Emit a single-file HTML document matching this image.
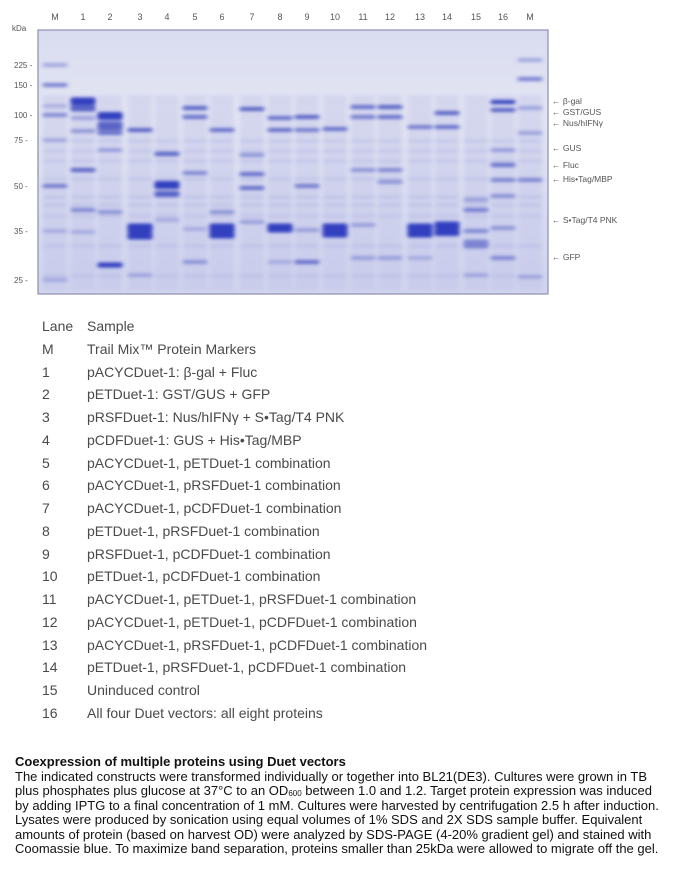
<!DOCTYPE html>
<html><head><meta charset="utf-8">
<style>
body{margin:0;width:696px;height:879px;background:#fff;position:relative;overflow:hidden;font-family:"Liberation Sans",sans-serif}
.row{position:absolute;font-size:14px;color:#4a4a4a;white-space:nowrap;line-height:16px}
.cap{position:absolute;left:15px;top:755px;font-size:13px;line-height:14.5px;color:#111;white-space:nowrap;font-family:"Liberation Sans",sans-serif}
.cap div{height:14.5px;line-height:14.5px}
</style></head><body>
<svg id="g" width="696" height="310" style="position:absolute;left:0;top:0">
<defs>
<filter id="b" x="-20%" y="-200%" width="140%" height="500%"><feGaussianBlur stdDeviation="2 1.6"/></filter>
<linearGradient id="bg" x1="0" y1="0" x2="0" y2="1"><stop offset="0" stop-color="#d9dcf0"/><stop offset="0.3" stop-color="#e3e5f3"/><stop offset="1" stop-color="#d0d4ee"/></linearGradient>
</defs>
<rect x="38" y="30" width="510" height="264" fill="url(#bg)" stroke="#8a8fb0" stroke-width="1.2"/>
<g id="lanes" filter="url(#b)"></g>
<g id="bands" filter="url(#b)"></g>
<g font-family="Liberation Sans Narrow, Liberation Sans, sans-serif" font-size="9" fill="#555" id="txt"></g>
</svg>
<div class="row" style="left:42px;top:318px">Lane</div><div class="row" style="left:87px;top:318px">Sample</div>
<div id="rows"></div>
<div class="cap"><div><b>Coexpression of multiple proteins using Duet vectors</b></div><div>The indicated constructs were transformed individually or together into BL21(DE3). Cultures were grown in TB</div><div>plus phosphates plus glucose at 37°C to an OD<sub style="font-size:8px;vertical-align:-1px;line-height:0">600</sub> between 1.0 and 1.2. Target protein expression was induced</div><div>by adding IPTG to a final concentration of 1 mM. Cultures were harvested by centrifugation 2.5 h after induction.</div><div>Lysates were produced by sonication using equal volumes of 1% SDS and 2X SDS sample buffer. Equivalent</div><div>amounts of protein (based on harvest OD) were analyzed by SDS-PAGE (4-20% gradient gel) and stained with</div><div>Coomassie blue. To maximize band separation, proteins smaller than 25kDa were allowed to migrate off the gel.</div></div>
<script>
var ns="http://www.w3.org/2000/svg";
function el(p,t,a,tx){var e=document.createElementNS(ns,t);for(var k in a)e.setAttribute(k,a[k]);if(tx)e.textContent=tx;document.getElementById(p).appendChild(e);return e;}
var xs=[55,83,110,140,167,195,222,252,280,307,335,363,390,420,447,476,503,530];
var names=["M","1","2","3","4","5","6","7","8","9","10","11","12","13","14","15","16","M"];
xs.forEach(function(x,i){el("txt","text",{x:x,y:20,"text-anchor":"middle","font-size":"9"},names[i]);
el("lanes","rect",{x:x-12,y:95,width:24,height:195,fill:"#b9bee6",opacity:0.35});});
var faint=[140,150,160,178,196,204,215,245,275];
var L={0:[[65,.4],[85,.7],[106,.3],[115,.6],[140,.3],[186,.7],[231,.3],[280,.3]],
1:[[101,1,6],[108,.9,6],[118,.4],[131,.5],[170,.9,3],[210,.6],[232,.3]],
2:[[116,1,7],[126,.9,8],[133,.8],[150,.4],[212,.5],[265,1,4]],
3:[[130,.9],[228,1,8],[236,1,6],[275,.3]],
4:[[154,.9,3],[185,1,7],[194,.9,5],[220,.3]],
5:[[108,.9],[117,.8],[173,.6],[229,.3],[262,.5]],
6:[[130,.8],[212,.5],[228,1,8],[235,1,6]],
7:[[109,.9,3],[155,.5],[174,.8],[188,.8],[222,.4]],
8:[[118,.8],[130,.8],[228,1,8],[262,.3]],
9:[[117,.9,3],[130,.7],[186,.7],[230,.4],[262,.8]],
10:[[129,.8],[228,1,8],[234,1,6]],
11:[[107,.8],[117,.7],[170,.5],[225,.4],[258,.4]],
12:[[107,.9],[117,.8],[170,.6],[182,.5],[258,.4]],
13:[[127,.7],[228,1,8],[234,1,6],[258,.3]],
14:[[113,.9],[127,.8],[226,1,8],[233,1,5]],
15:[[200,.4],[210,.7],[231,.6],[244,.6,8],[275,.3]],
16:[[102,1,3],[110,.9],[150,.4],[165,.8],[180,.6],[196,.5],[228,.5],[258,.6]],
17:[[60,.4],[79,.7],[108,.4],[133,.4],[180,.6],[277,.3]]};
xs.forEach(function(x,i){
 faint.forEach(function(y){el("bands","rect",{x:x-12,y:y,width:24,height:2,fill:"#6b72c6",opacity:0.2});});
 (L[i]||[]).forEach(function(b){var h=(b[2]||3)+1;el("bands","rect",{x:x-12.5,y:b[0]-h/2,width:25,height:h,rx:2,fill:b[1]>.95?"#3140c0":"#4b56c2",opacity:b[1]});});
});
var mk=[["kDa",28],["225",65],["150",85],["100",115],["75",140],["50",186],["35",231],["25",280]];
mk.forEach(function(m){el("txt","text",{x:m[0]=="kDa"?12:14,y:m[1]+3,"font-size":"8"},m[0]+(m[0]=="kDa"?"":" -"));});
var rl=[["β-gal",101],["GST/GUS",112],["Nus/hIFNγ",123],["GUS",148],["Fluc",165],["His•Tag/MBP",179],["S•Tag/T4 PNK",220],["GFP",257]];
rl.forEach(function(m){el("txt","text",{x:552,y:m[1]+3,"font-size":"8.5"},"← "+m[0]);});
var rows=[["M","Trail Mix™ Protein Markers"],["1","pACYCDuet-1: β-gal + Fluc"],["2","pETDuet-1: GST/GUS + GFP"],["3","pRSFDuet-1: Nus/hIFNγ + S•Tag/T4 PNK"],["4","pCDFDuet-1: GUS + His•Tag/MBP"],["5","pACYCDuet-1, pETDuet-1 combination"],["6","pACYCDuet-1, pRSFDuet-1 combination"],["7","pACYCDuet-1, pCDFDuet-1 combination"],["8","pETDuet-1, pRSFDuet-1 combination"],["9","pRSFDuet-1, pCDFDuet-1 combination"],["10","pETDuet-1, pCDFDuet-1 combination"],["11","pACYCDuet-1, pETDuet-1, pRSFDuet-1 combination"],["12","pACYCDuet-1, pETDuet-1, pCDFDuet-1 combination"],["13","pACYCDuet-1, pRSFDuet-1, pCDFDuet-1 combination"],["14","pETDuet-1, pRSFDuet-1, pCDFDuet-1 combination"],["15","Uninduced control"],["16","All four Duet vectors: all eight proteins"]];
var h="";rows.forEach(function(r,i){var t=318+(i+1)*22.75;h+='<div class="row" style="left:42px;top:'+t+'px">'+r[0]+'</div><div class="row" style="left:87px;top:'+t+'px">'+r[1]+'</div>';});
document.getElementById("rows").innerHTML=h;
</script>
</body></html>
